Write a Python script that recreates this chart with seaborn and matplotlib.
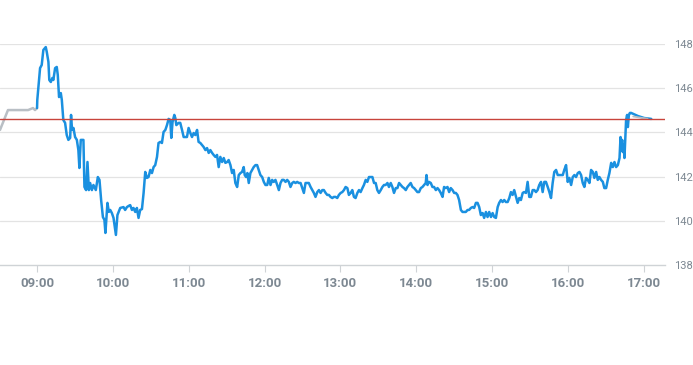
import matplotlib
matplotlib.use("Agg")
import matplotlib.pyplot as plt
import seaborn as sns
import pandas as pd

# minutes after 09:00
pre_minutes = [-29.3, -23.0, -7.1, -3.2, -1.6, 0.0]
pre_prices = [144.11, 145.01, 145.01, 145.10, 145.01, 145.10]

minutes = [
    0.0, 0.2, 2.4, 3.7, 5.0, 6.9, 7.7, 9.0, 9.7, 10.9, 12.1, 12.9, 14.3, 15.6, 16.4, 17.4, 18.8, 19.6,
    20.8, 22.2, 23.5, 24.8, 26.2, 26.9, 27.7, 28.8, 30.1, 31.5, 32.7, 33.5, 34.6, 36.7, 37.5, 38.8,
    39.9, 41.0, 42.0, 43.4, 44.6, 46.5, 48.1, 49.4, 50.7, 52.1, 53.3, 54.1, 55.7, 56.8, 57.9, 59.2,
    60.5, 62.4, 63.6, 65.8, 68.4, 69.7, 71.1, 72.4, 73.7, 75.1, 76.3, 77.7, 79.0, 80.3, 81.6, 83.0,
    84.3, 85.6, 86.9, 88.2, 89.6, 90.9, 92.2, 93.5, 94.9, 96.1, 97.5, 98.8, 100.1, 101.5, 102.8,
    104.1, 105.4, 106.2, 107.2, 108.6, 109.4, 110.2, 112.0, 113.3, 114.7, 116.0, 118.6, 119.9,
    121.3, 122.6, 123.9, 125.2, 126.6, 127.8, 129.2, 130.5, 131.8, 133.2, 134.5, 135.8, 137.1,
    138.5, 139.7, 141.1, 142.4, 143.7, 145.0, 146.4, 147.7, 149.0, 150.4, 151.6, 153.0, 154.3,
    155.6, 156.9, 158.3, 159.6, 160.9, 162.2, 163.5, 164.3, 165.4, 166.4, 167.5, 168.8, 170.2,
    171.4, 172.8, 174.1, 175.4, 176.7, 178.1, 179.4, 180.7, 182.1, 183.3, 184.7, 186.0, 187.3,
    188.6, 190.0, 191.3, 192.6, 193.9, 195.2, 196.6, 197.9, 199.2, 200.5, 201.9, 203.1, 204.5,
    205.8, 207.1, 208.5, 209.8, 211.1, 212.4, 215.0, 216.4, 217.7, 219.0, 220.3, 221.7, 223.0,
    224.3, 225.7, 226.9, 228.3, 229.6, 230.9, 232.2, 233.6, 234.8, 236.2, 237.5, 238.8, 240.2,
    241.5, 242.8, 244.1, 245.5, 246.7, 248.1, 249.4, 250.7, 252.0, 253.4, 254.7, 256.0, 257.4,
    258.6, 260.0, 261.3, 262.6, 265.3, 266.6, 267.9, 269.2, 270.5, 271.9, 273.2, 274.5, 275.8,
    277.2, 278.4, 279.8, 281.1, 282.4, 283.8, 285.1, 286.4, 287.7, 289.1, 290.3, 291.7, 293.0,
    294.3, 295.6, 297.0, 298.3, 299.6, 300.9, 302.2, 303.6, 304.9, 306.2, 307.5, 308.1, 308.9,
    310.1, 311.5, 312.8, 314.1, 315.5, 316.8, 318.1, 319.4, 320.8, 322.0, 323.4, 324.7, 326.0,
    327.3, 328.7, 330.0, 331.3, 332.6, 333.9, 335.3, 336.6, 337.9, 339.2, 340.6, 341.8, 343.2,
    344.5, 345.8, 347.2, 348.5, 349.8, 351.1, 352.5, 353.7, 355.1, 356.4, 357.7, 359.1, 360.4,
    361.7, 363.0, 364.4, 365.6, 367.0, 368.3, 369.6, 370.9, 372.3, 373.6, 374.9, 376.2, 377.5,
    378.9, 380.2, 381.5, 382.8, 384.2, 385.4, 386.8, 388.1, 389.4, 390.7, 392.1, 393.4, 394.7,
    396.0, 397.3, 398.7, 400.0, 401.3, 402.6, 404.0, 405.3, 406.6, 407.9, 409.2, 410.6, 411.9,
    415.9, 417.1, 418.5, 419.8, 421.1, 422.5, 423.8, 425.1, 426.4, 427.8, 429.1, 430.4, 431.7,
    433.0, 434.3, 435.7, 437.0, 438.3, 439.7, 440.9, 442.3, 443.6, 444.9, 446.2, 447.6, 448.8,
    450.2, 451.5, 452.8, 454.2, 455.5, 456.8, 458.1, 459.5, 460.8, 461.6, 462.1, 462.9, 463.4,
    464.2, 464.7, 465.5, 466.0, 466.8, 467.4, 468.2, 469.0, 470.0, 475.4, 480.3, 485.9,
]
prices = [
    145.10, 145.47, 146.91, 147.05, 147.73, 147.86, 147.64, 147.19, 146.37, 146.28, 146.46, 146.37,
    146.91, 146.96, 146.60, 145.60, 145.78, 145.47, 144.56, 144.43, 143.88, 143.66, 143.75, 144.79,
    144.11, 144.20, 143.79, 143.66, 143.20, 142.39, 143.66, 143.66, 141.53, 141.39, 142.66, 141.39,
    141.71, 141.39, 141.62, 141.39, 141.98, 141.85, 140.94, 140.17, 140.04, 139.45, 140.81, 140.40,
    140.49, 140.35, 140.13, 139.36, 140.26, 140.58, 140.62, 140.49, 140.62, 140.67, 140.71, 140.49,
    140.58, 140.40, 140.58, 140.13, 140.49, 140.53, 141.26, 142.21, 141.94, 141.98, 142.30, 142.16,
    142.43, 142.52, 142.89, 143.52, 143.57, 143.52, 144.02, 144.11, 144.33, 144.61, 144.56, 143.75,
    144.47, 144.79, 144.65, 144.33, 144.43, 144.43, 144.11, 143.79, 143.79, 144.20, 143.97, 143.79,
    143.97, 143.88, 144.11, 143.57, 143.52, 143.43, 143.34, 143.20, 143.29, 143.07, 143.20, 143.07,
    142.98, 142.89, 142.98, 142.43, 142.89, 142.66, 142.84, 142.62, 142.66, 142.75, 142.52, 142.16,
    142.30, 141.71, 141.53, 142.07, 142.16, 142.21, 142.43, 142.07, 141.98, 142.16, 141.71, 142.16,
    142.30, 142.43, 142.52, 142.52, 142.30, 142.07, 141.98, 141.76, 141.62, 141.62, 141.94, 141.62,
    141.85, 141.76, 141.85, 141.62, 141.39, 141.71, 141.85, 141.85, 141.76, 141.85, 141.76, 141.53,
    141.71, 141.76, 141.71, 141.76, 141.71, 141.71, 141.48, 141.26, 141.71, 141.71, 141.53, 141.39,
    141.26, 141.08, 141.30, 141.39, 141.26, 141.39, 141.39, 141.26, 141.17, 141.17, 141.08, 141.03,
    141.08, 141.08, 141.03, 141.17, 141.26, 141.30, 141.39, 141.53, 141.48, 141.17, 141.26, 141.39,
    141.08, 141.03, 141.26, 141.39, 141.30, 141.48, 141.62, 141.85, 141.76, 141.98, 141.98, 141.71,
    141.71, 141.39, 141.26, 141.39, 141.53, 141.62, 141.62, 141.71, 141.53, 141.71, 141.53, 141.26,
    141.48, 141.48, 141.71, 141.62, 141.53, 141.48, 141.39, 141.53, 141.62, 141.71, 141.53, 141.48,
    141.39, 141.30, 141.30, 141.48, 141.53, 141.62, 141.71, 142.07, 141.62, 141.76, 141.71, 141.53,
    141.53, 141.39, 141.48, 141.39, 141.26, 141.08, 141.53, 141.48, 141.53, 141.30, 141.48, 141.39,
    141.26, 141.26, 141.17, 140.94, 140.49, 140.40, 140.40, 140.40, 140.49, 140.49, 140.58, 140.62,
    140.58, 140.81, 140.81, 140.62, 140.26, 140.35, 140.13, 140.40, 140.17, 140.40, 140.17, 140.35,
    140.17, 140.13, 140.62, 140.81, 140.94, 140.85, 140.94, 140.85, 140.85, 141.03, 141.30, 141.17,
    141.39, 141.08, 140.81, 141.03, 140.94, 141.26, 141.30, 141.26, 141.76, 141.08, 141.08, 141.39,
    141.39, 141.30, 141.39, 141.62, 141.76, 141.30, 141.76, 141.76, 141.53, 141.30, 141.03, 141.71,
    142.21, 142.30, 142.07, 142.07, 142.30, 142.52, 141.76, 141.94, 141.62, 141.98, 142.07, 141.98,
    142.16, 142.21, 142.07, 141.71, 141.53, 141.94, 141.85, 141.71, 142.30, 142.21, 141.94, 142.21,
    141.85, 141.98, 141.85, 141.76, 141.48, 141.48, 141.85, 142.16, 142.62, 142.43, 142.66, 142.43,
    142.52, 142.84, 143.79, 143.20, 143.66, 143.11, 143.43, 142.84, 143.97, 144.56, 144.79, 144.24,
    144.79, 144.88, 144.88, 144.74, 144.65, 144.61,
]
post_minutes = [471.6, 478.0, 483.0]
post_prices = [144.72, 144.66, 144.62]

reference_price = 144.61
tick_labels = ["09:00", "10:00", "11:00", "12:00", "13:00", "14:00", "15:00", "16:00", "17:00"]
y_ticks = [138, 140, 142, 144, 146, 148]

sns.set_theme(style="white")
plt.rcParams["font.family"] = ["Liberation Sans Narrow", "Roboto", "DejaVu Sans"]

fig = plt.figure(figsize=(6.93, 3.65), dpi=100)
ax = fig.add_axes([0.0, 0.274, 0.96, 0.6055])

main = pd.DataFrame({"t": minutes, "p": prices})
pre = pd.DataFrame({"t": pre_minutes, "p": pre_prices})
post = pd.DataFrame({"t": post_minutes, "p": post_prices})

for yv in y_ticks[1:]:
    ax.axhline(yv, color="#e3e3e3", lw=0.9, zorder=0)

sns.lineplot(data=pre, x="t", y="p", ax=ax, sort=False, estimator=None,
             color="#b9bfc5", lw=1.8, zorder=2)
sns.lineplot(data=main, x="t", y="p", ax=ax, sort=False, estimator=None,
             color="#1a90e0", lw=1.8, zorder=3)
sns.lineplot(data=post, x="t", y="p", ax=ax, sort=False, estimator=None,
             color="#b9bfc5", lw=1.3, zorder=4)
ax.axhline(reference_price, color="#c8443c", lw=1.0, zorder=5)

ax.set_xlim(-29.3, 497.0)
ax.set_ylim(138, 148)

tick_pos = [(int(s[:2]) - 9) * 60 + int(s[3:]) for s in tick_labels]
ax.set_xticks(tick_pos)
ax.set_xticklabels(tick_labels)
ax.set_yticks(y_ticks)
ax.set_yticklabels([str(v) for v in y_ticks])
ax.yaxis.tick_right()
ax.tick_params(axis="y", length=0, pad=6, labelsize=8, labelcolor="#7d8892")
ax.tick_params(axis="x", length=5, width=0.8, color="#cfd3d6", pad=4,
               labelsize=9.5, labelcolor="#7d8892", bottom=True)
for lab in ax.get_xticklabels():
    lab.set_fontweight("bold")

for side in ["top", "right", "left"]:
    ax.spines[side].set_visible(False)
ax.spines["bottom"].set_color("#cfd3d6")
ax.spines["bottom"].set_linewidth(1.0)
ax.set_xlabel("")
ax.set_ylabel("")

fig.savefig("out.png", dpi=100)
